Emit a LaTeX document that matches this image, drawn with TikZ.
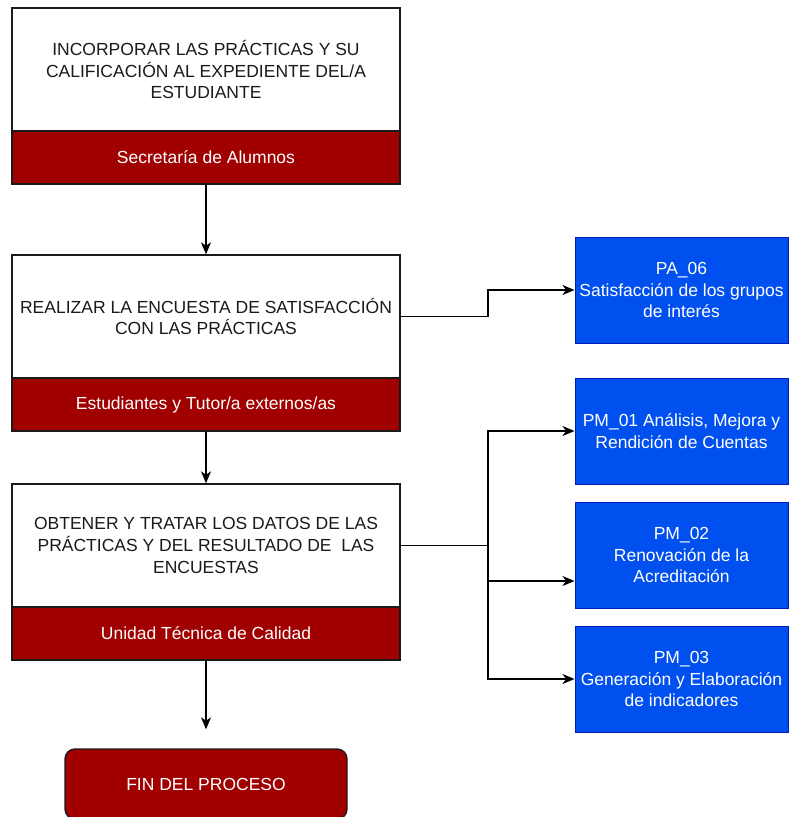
\documentclass[tikz,border=0pt]{standalone}
\usepackage{fontspec}
\setmainfont{Liberation Sans}
\usetikzlibrary{arrows.meta,positioning}
\definecolor{bandred}{HTML}{A00000}
\definecolor{procblue}{HTML}{0050EF}
\definecolor{procblueline}{HTML}{001DBC}
\definecolor{ink}{HTML}{1A1A1A}
\begin{document}
\begin{tikzpicture}[x=1pt,y=-1pt,
  every node/.style={font=\fontsize{17.5}{21.8}\selectfont, align=center, inner sep=0pt},
  taskbox/.style={draw=ink, line width=1.4pt, fill=white, text=ink,
    minimum width=388pt, minimum height=123pt},
  roleband/.style={draw=ink, line width=1.4pt, fill=bandred, text=white,
    minimum width=388pt, minimum height=53pt},
  linkbox/.style={draw=procblueline, line width=1pt, fill=procblue, text=white,
    minimum width=213pt, minimum height=106pt},
  endbox/.style={draw=ink, line width=1.4pt, fill=bandred, text=white,
    rounded corners=10pt, minimum width=282pt, minimum height=70pt},
  flow/.style={draw=black, line width=1.4pt,
    -{Stealth[length=12pt,width=10pt,inset=3.5pt]}},
  wire/.style={draw=black, line width=1.4pt}]
\useasboundingbox (0,0) rectangle (790,817);
\clip (0,0) rectangle (790,817);

% main process column
\node[taskbox] (t1) at (206,69.5) {INCORPORAR LAS PRÁCTICAS Y SU\\CALIFICACIÓN AL EXPEDIENTE DEL/A\\ESTUDIANTE};
\node[roleband] (r1) at (206,157.5) {Secretaría de Alumnos};

\node[taskbox] (t2) at (206,316.5) {REALIZAR LA ENCUESTA DE SATISFACCIÓN\\CON LAS PRÁCTICAS};
\node[roleband] (r2) at (206,404.5) {Estudiantes y Tutor/a externos/as};

\node[taskbox] (t3) at (206,545.5) {OBTENER Y TRATAR LOS DATOS DE LAS\\PRÁCTICAS Y DEL RESULTADO DE~ LAS\\ENCUESTAS};
\node[roleband] (r3) at (206,633.5) {Unidad Técnica de Calidad};

\node[endbox] (fin) at (206,784) {FIN DEL PROCESO};

% linked processes
\node[linkbox] (pa06) at (681.5,290) {PA\_06\\Satisfacción de los grupos\\de interés};
\node[linkbox] (pm01) at (681.5,431) {PM\_01 Análisis, Mejora y\\Rendición de Cuentas};
\node[linkbox] (pm02) at (681.5,555) {PM\_02\\Renovación de la\\Acreditación};
\node[linkbox] (pm03) at (681.5,679) {PM\_03\\Generación y Elaboración\\de indicadores};

% vertical flow
\draw[flow] (r1.south) -- (t2.north);
\draw[flow] (r2.south) -- (t3.north);
\draw[flow, shorten >=19pt] (r3.south) -- (fin.north);

% branches to linked processes
\coordinate (j1) at (488,316.5);
\coordinate (j2) at (488,545.5);
\draw[wire] (t2.east) -- (j1);
\draw[flow] (j1) |- (pa06.west);
\draw[wire] (t3.east) -- (j2);
\draw[flow] (j2) |- (pm01.west);
\draw[flow] (j2) |- ([yshift=-26pt]pm02.west);
\draw[flow] (j2) |- (pm03.west);
\end{tikzpicture}
\end{document}
